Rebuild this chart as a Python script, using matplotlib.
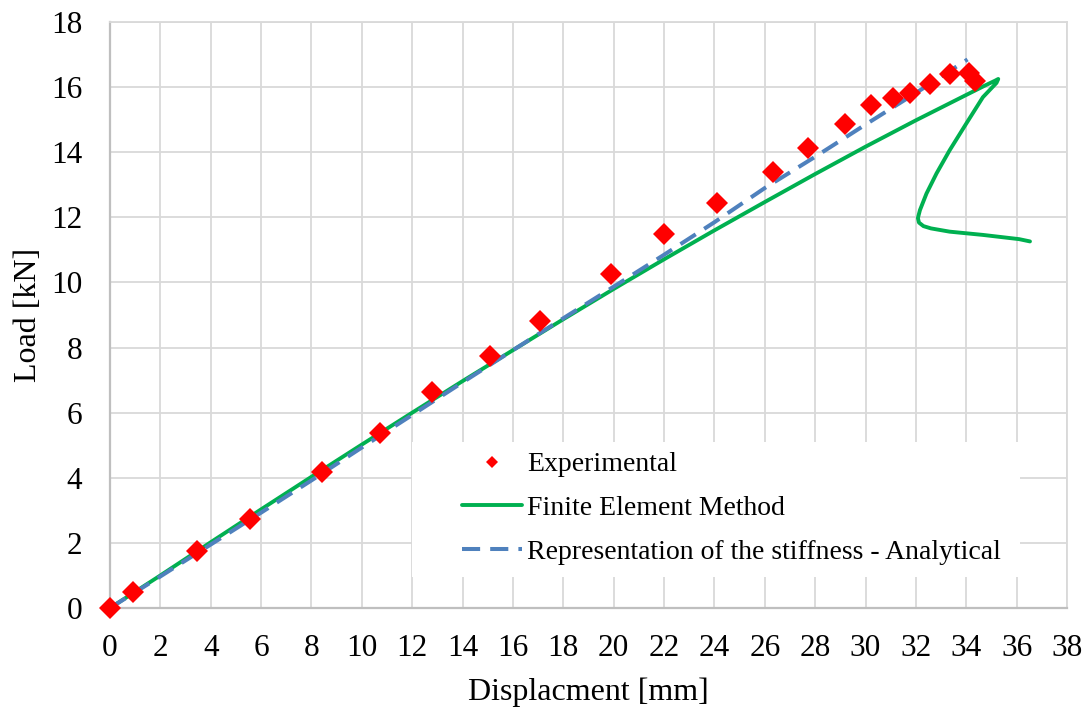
import matplotlib
matplotlib.use("Agg")
import matplotlib.pyplot as plt
from matplotlib.patches import Rectangle

plt.rcParams['font.family'] = ['Liberation Serif', 'DejaVu Serif']

# Experimental data
exp_x = [0, 0.93, 3.44, 5.56, 8.41, 10.72, 12.78, 15.09, 17.08, 19.88, 22.0, 24.09,
         26.32, 27.72, 29.19, 30.22, 31.1, 31.77, 32.57, 33.36, 34.09, 34.35]
exp_y = [0, 0.50, 1.76, 2.74, 4.17, 5.37, 6.62, 7.75, 8.83, 10.27, 11.48, 12.44,
         13.40, 14.14, 14.88, 15.44, 15.66, 15.83, 16.10, 16.39, 16.44, 16.18]

# Finite Element Method
fem_x = [0, 2, 4, 6, 8, 10, 12, 14, 16, 18, 20, 22, 24, 26, 28, 30, 32, 34, 34.8, 35.15,
         35.27, 35.2, 34.66, 34.0, 33.34, 32.82, 32.42, 32.16, 32.08, 32.12, 32.3, 32.6,
         33.34, 34.66, 36.1, 36.53]
fem_y = [0, 1.0, 2.02, 3.03, 4.03, 5.02, 6.0, 6.97, 7.92, 8.87, 9.8, 10.71, 11.6, 12.47,
         13.33, 14.17, 14.98, 15.76, 16.07, 16.2, 16.25, 16.13, 15.69, 14.88, 14.06, 13.35,
         12.73, 12.22, 11.98, 11.84, 11.73, 11.66, 11.56, 11.46, 11.33, 11.26]

# Analytical representation of the stiffness
ana_x = [0, 2, 4, 6, 8, 10, 12, 14, 16, 18, 20, 22, 24, 26, 28, 30, 32, 34.05]
ana_y = [0, 0.97, 1.95, 2.93, 3.92, 4.93, 5.93, 6.93, 7.92, 8.9, 9.87, 10.85, 11.85,
         12.9, 13.86, 14.85, 15.82, 16.85]

x_ticks = list(range(0, 39, 2))
y_ticks = list(range(0, 19, 2))

W, H = 1090, 709
fig = plt.figure(figsize=(W / 100, H / 100), dpi=100)
ax = fig.add_axes([110 / W, 1 - 608 / H, (1067 - 110) / W, (608 - 22) / H])

ax.set_xlim(0, 38)
ax.set_ylim(0, 18)
ax.set_xticks(x_ticks)
ax.set_yticks(y_ticks)
ax.tick_params(axis='both', length=0, labelsize=22.5)
ax.tick_params(axis='x', pad=19)
ax.tick_params(axis='y', pad=20)
ax.set_axisbelow(True)
ax.grid(True, color='#d9d9d9', linewidth=1.3)
for s in ['top', 'right']:
    ax.spines[s].set_color('#d9d9d9')
    ax.spines[s].set_linewidth(1.3)
for s in ['left', 'bottom']:
    ax.spines[s].set_color('#bfbfbf')
    ax.spines[s].set_linewidth(1.6)

ax.plot(fem_x, fem_y, color='#00B050', linewidth=2.8, label='Finite Element Method',
        zorder=3, solid_capstyle='round', solid_joinstyle='round')
ax.plot(ana_x, ana_y, color='#4F81BD', linewidth=2.9, dashes=(4.5, 2.5),
        label='Representation of the stiffness - Analytical', zorder=4,
        dash_capstyle='butt')
ax.plot(exp_x, exp_y, linestyle='none', marker='D', markersize=11, color='#FF0000',
        markeredgewidth=0, label='Experimental', zorder=5, clip_on=False)

# legend background
ax.add_patch(Rectangle((412 / W, 1 - 577 / H), (1020 - 412) / W, (577 - 442) / H,
                       transform=fig.transFigure, facecolor='white', edgecolor='none',
                       zorder=1.5))

handles, labels = ax.get_legend_handles_labels()
order = [2, 0, 1]
leg = ax.legend([handles[i] for i in order], [labels[i] for i in order],
                loc='upper left', bbox_to_anchor=(462 / W, 1 - 452 / H),
                bbox_transform=fig.transFigure, frameon=False, fontsize=20,
                borderpad=0, borderaxespad=0, handlelength=2.16, handletextpad=0.18,
                labelspacing=0.66, markerscale=0.6)
leg.set_zorder(6)

ax.set_xlabel('Displacment [mm]', fontsize=23, labelpad=10)
ax.set_ylabel('Load [kN]', fontsize=23, labelpad=6)

fig.savefig('out.png', dpi=100)
